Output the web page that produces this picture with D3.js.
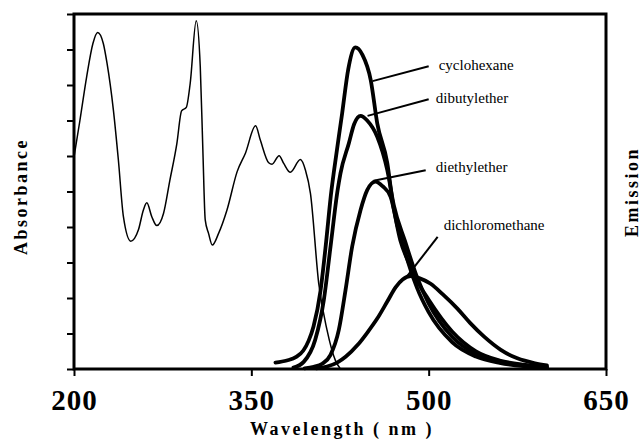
<!DOCTYPE html>
<html>
<head>
<meta charset="utf-8">
<script src="https://cdn.jsdelivr.net/npm/d3@7"></script>
<style>
  body { margin: 0; background: #fff; }
  svg { display: block; }
  .tick-lbl { font-family: "Liberation Serif", serif; font-weight: bold; font-size: 29px; letter-spacing: 1px; }
  .ax-title { font-family: "Liberation Serif", serif; font-weight: bold; font-size: 18px; letter-spacing: 2.5px; }
  .curve-lbl { font-family: "Liberation Serif", serif; font-size: 15px; }
</style>
</head>
<body>
<svg id="chart" width="641" height="439"></svg>
<script>
// absorbance spectrum, [wavelength nm, value in tick units]
const absorbance = [
  [200, 5.97], [205, 7.0], [210.7, 8.23], [216, 9.17], [220, 9.48], [224.8, 9.17], [228, 8.6],
  [233.3, 7.3], [237.5, 5.9], [241.8, 4.29], [248, 3.6], [254.5, 3.92], [258.7, 4.48], [261.6, 4.68],
  [265.8, 4.29], [270, 4.04], [275.7, 4.38], [281, 5.3], [287, 6.35], [291, 7.27], [295, 7.37],
  [298.3, 8.05], [303.4, 9.81], [306.8, 8.52], [309, 6.17], [311, 4.2], [313.8, 3.82], [317, 3.49],
  [322.3, 3.82], [329.4, 4.48], [338, 5.56], [345, 6.08], [353.6, 6.85], [357.6, 6.45], [364.7, 5.81],
  [367.5, 5.77], [373.5, 6.01], [377.4, 5.79], [383, 5.54], [391.5, 5.9], [395.8, 5.6], [400, 4.95],
  [407, 2.41], [414, 1.1], [421, 0.25], [425, 0.02]
]

const cyclohexane = [
  [370.4, 0.18], [380, 0.24], [388, 0.34], [394, 0.52], [398.5, 0.8], [402.6, 1.2], [408.5, 2.2],
  [412.7, 3.4], [417.8, 5.04], [420, 5.6], [426.8, 7.2], [432, 8.45], [438, 9.06], [444, 8.85],
  [451, 8.14], [456.5, 6.92], [465, 5.8], [470, 4.6], [480, 3.3], [490, 2.3], [500, 1.6],
  [520, 0.75], [540, 0.35], [560, 0.17], [580, 0.08], [600, 0.04]
]

const dibutylether = [
  [385.6, 0.04], [394.3, 0.2], [404, 0.82], [411.3, 1.94], [417, 3.45], [423, 5.04], [425.4, 5.51],
  [432.5, 6.36], [437, 6.9], [442.4, 7.13], [448, 7.0], [456.5, 6.54], [465, 5.6], [470.6, 4.6],
  [480, 3.6], [490, 2.6], [500, 1.85], [520, 0.9], [540, 0.42], [560, 0.2], [580, 0.1], [600, 0.05]
]

const diethylether = [
  [395, 0.02], [402.8, 0.06], [410, 0.15], [417, 0.4], [424, 1.1], [429.7, 2.23], [435.3, 3.45],
  [442.4, 4.48], [448, 5.04], [455, 5.28], [461, 5.15], [467.8, 4.85], [476, 3.63], [484.7, 2.88],
  [490, 2.5], [500, 1.95], [520, 1.05], [540, 0.5], [560, 0.24], [580, 0.12], [600, 0.06]
]

const dichloromethane = [
  [405, 0.02], [414, 0.07], [422.6, 0.18], [430, 0.35], [440, 0.68], [448, 1.02], [456.5, 1.42],
  [465, 1.9], [472, 2.3], [478, 2.52], [484.7, 2.62], [492, 2.56], [501.7, 2.4], [512, 2.1],
  [524.3, 1.7], [535, 1.3], [546.9, 0.91], [561, 0.54], [575, 0.3], [590, 0.16], [600, 0.1]
]

// label text anchor and leader line ends, all in data units
const labels = [
  { name: 'cyclohexane', at: [508.5, 8.42], from: [500, 8.53], to: [452.5, 8.11] },
  { name: 'dibutylether', at: [506, 7.49], from: [500, 7.6], to: [448.3, 7.13] },
  { name: 'diethylether', at: [506, 5.55], from: [497.5, 5.6], to: [453.4, 5.3] },
  { name: 'dichloromethane', at: [512.7, 3.92], from: [507.6, 3.72], to: [480.5, 2.56] }
]

const xTicks = [200, 350, 500, 650]
const yTicks = d3.range(0, 11)

const margin = {top: 14, right: 35, bottom: 70, left: 74}
const width = 641 - margin.left - margin.right
const height = 439 - margin.top - margin.bottom

const svg = d3.select('#chart')
const g = svg.append('g').attr('transform', `translate(${margin.left}, ${margin.top})`)

const x = d3.scaleLinear().domain([200, 650]).range([0, width])
const y = d3.scaleLinear().domain([0, 10]).range([height, 0])

const line = d3.line()
  .x(d => x(d[0]))
  .y(d => y(d[1]))
  .curve(d3.curveMonotoneX)

// axes
const yAxis = g.append('g')
  .call(d3.axisLeft(y).tickValues(yTicks).tickSize(7).tickFormat(''))
yAxis.select('.domain').remove()
yAxis.selectAll('line').attr('stroke-width', 2)

const xAxis = g.append('g')
  .attr('transform', `translate(0, ${height})`)
  .call(d3.axisBottom(x).tickValues(xTicks).tickSize(7).tickFormat(d3.format('d')))
xAxis.select('.domain').remove()
xAxis.selectAll('line').attr('stroke-width', 2)
xAxis.selectAll('text')
  .attr('class', 'tick-lbl')
  .attr('fill', '#000')
  .attr('y', 0)
  .attr('dy', 41)

// curves
g.append('path')
  .datum(absorbance)
  .attr('fill', 'none')
  .attr('stroke', '#000')
  .attr('stroke-width', 1.5)
  .attr('d', line)

const emission = [cyclohexane, dibutylether, diethylether, dichloromethane]
g.selectAll('.em')
  .data(emission)
  .enter()
  .append('path')
    .attr('class', 'em')
    .attr('fill', 'none')
    .attr('stroke', '#000')
    .attr('stroke-width', 3.8)
    .attr('stroke-linecap', 'round')
    .attr('d', line)

// frame
g.append('rect')
  .attr('width', width)
  .attr('height', height)
  .attr('fill', 'none')
  .attr('stroke', '#000')
  .attr('stroke-width', 3)

// leaders + labels
g.selectAll('.leader')
  .data(labels)
  .enter()
  .append('line')
    .attr('x1', d => x(d.from[0]))
    .attr('y1', d => y(d.from[1]))
    .attr('x2', d => x(d.to[0]))
    .attr('y2', d => y(d.to[1]))
    .attr('stroke', '#000')
    .attr('stroke-width', 2)

g.selectAll('.curve-lbl')
  .data(labels)
  .enter()
  .append('text')
    .attr('class', 'curve-lbl')
    .attr('x', d => x(d.at[0]))
    .attr('y', d => y(d.at[1]))
    .text(d => d.name)

// axis titles
svg.append('text')
  .attr('class', 'ax-title')
  .attr('x', 250)
  .attr('y', 435)
  .text('Wavelength ( nm )')

svg.append('text')
  .attr('class', 'ax-title')
  .attr('transform', 'translate(27, 255) rotate(-90)')
  .text('Absorbance')

svg.append('text')
  .attr('class', 'ax-title')
  .attr('transform', 'translate(638, 237) rotate(-90)')
  .text('Emission')
</script>
</body>
</html>
